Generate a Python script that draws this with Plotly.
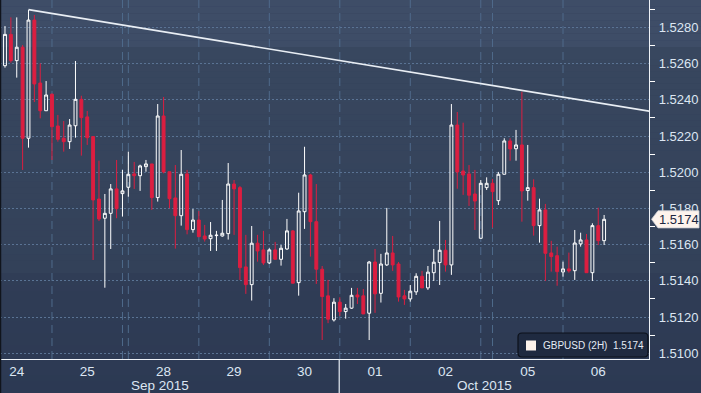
import plotly.graph_objects as go

# ---------------- data (GBPUSD, 2H bars) ----------------
opens = [
    1.52589, 1.52762, 1.52617, 1.52691, 1.52188, 1.52841, 1.52493, 1.52340, 1.52431, 1.52256,
    1.52188, 1.52169, 1.52257, 1.52403, 1.52306, 1.52197, 1.51852, 1.51746, 1.51773, 1.51908,
    1.51882, 1.51917, 1.51991, 1.51981, 1.52031, 1.52046, 1.51860, 1.52311, 1.52003, 1.51858,
    1.51760, 1.51991, 1.51683, 1.51736, 1.51648, 1.51633, 1.51650, 1.51648, 1.51661, 1.51935,
    1.51915, 1.51477, 1.51379, 1.51608, 1.51571, 1.51499, 1.51571, 1.51519, 1.51576, 1.51676,
    1.51390, 1.51782, 1.51985, 1.51727, 1.51464, 1.51317, 1.51184, 1.51282, 1.51230, 1.51249,
    1.51322, 1.51317, 1.51221, 1.51504, 1.51331, 1.51488, 1.51554, 1.51493, 1.51317, 1.51300,
    1.51339, 1.51425, 1.51361, 1.51445, 1.51501, 1.51569, 1.51488, 1.52261, 1.52007, 1.51991,
    1.51880, 1.51635, 1.51915, 1.51939, 1.51843, 1.51989, 1.52173, 1.52130, 1.52151, 1.51899,
    1.51915, 1.51705, 1.51792, 1.51554, 1.51539, 1.51449, 1.51466, 1.51456, 1.51604, 1.51626,
    1.51445, 1.51705, 1.51622]
highs = [
    1.52808, 1.52856, 1.52856, 1.52703, 1.52897, 1.52869, 1.52602, 1.52504, 1.52436, 1.52317,
    1.52283, 1.52294, 1.52615, 1.52423, 1.52339, 1.52197, 1.52064, 1.51880, 1.51935, 1.52068,
    1.52013, 1.52114, 1.52057, 1.52042, 1.52068, 1.52046, 1.52377, 1.52416, 1.52003, 1.52040,
    1.52123, 1.52013, 1.51797, 1.51786, 1.51709, 1.51725, 1.51676, 1.51847, 1.52051, 1.51957,
    1.51924, 1.51654, 1.51703, 1.51654, 1.51676, 1.51580, 1.51615, 1.51598, 1.51742, 1.51681,
    1.51887, 1.52141, 1.51991, 1.51935, 1.51482, 1.51405, 1.51304, 1.51309, 1.51272, 1.51361,
    1.51361, 1.51355, 1.51510, 1.51576, 1.51549, 1.51803, 1.51648, 1.51504, 1.51350, 1.51377,
    1.51442, 1.51455, 1.51482, 1.51576, 1.51731, 1.51626, 1.52377, 1.52333, 1.52274, 1.52040,
    1.52013, 1.51957, 1.51972, 1.51963, 1.52002, 1.52188, 1.52188, 1.52234, 1.52445, 1.52151,
    1.51961, 1.51854, 1.51825, 1.51621, 1.51589, 1.51506, 1.51556, 1.51681, 1.51666, 1.51659,
    1.51718, 1.51804, 1.51764]
lows = [
    1.52578, 1.52606, 1.52523, 1.52013, 1.52136, 1.52388, 1.52298, 1.52339, 1.52068, 1.52169,
    1.52114, 1.52129, 1.52191, 1.52092, 1.52151, 1.51515, 1.51731, 1.51362, 1.51576, 1.51746,
    1.51755, 1.51865, 1.51908, 1.51897, 1.52003, 1.51792, 1.51838, 1.51994, 1.51801, 1.51578,
    1.51705, 1.51657, 1.51666, 1.51644, 1.51617, 1.51565, 1.51565, 1.51644, 1.51628, 1.51654,
    1.51405, 1.51328, 1.51291, 1.51506, 1.51488, 1.51493, 1.51519, 1.51484, 1.51571, 1.51387,
    1.51318, 1.51687, 1.51534, 1.51383, 1.51073, 1.51166, 1.51175, 1.51206, 1.51191, 1.51245,
    1.51272, 1.51217, 1.51073, 1.51223, 1.51280, 1.51482, 1.51455, 1.51285, 1.51267, 1.51285,
    1.51322, 1.51361, 1.51350, 1.51399, 1.51377, 1.51451, 1.51433, 1.51909, 1.51875, 1.51814,
    1.51681, 1.51635, 1.51902, 1.51694, 1.51819, 1.51989, 1.52064, 1.52064, 1.51727, 1.51843,
    1.51650, 1.51611, 1.51399, 1.51451, 1.51373, 1.51423, 1.51445, 1.51405, 1.51589, 1.51445,
    1.51399, 1.51598, 1.51598]
closes = [
    1.52762, 1.52617, 1.52691, 1.52188, 1.52841, 1.52488, 1.52340, 1.52427, 1.52252, 1.52182,
    1.52169, 1.52261, 1.52403, 1.52302, 1.52191, 1.51847, 1.51742, 1.51773, 1.51908, 1.51799,
    1.51897, 1.51989, 1.51981, 1.52035, 1.52046, 1.51860, 1.52311, 1.52002, 1.51854, 1.51760,
    1.51989, 1.51683, 1.51736, 1.51644, 1.51631, 1.51652, 1.51652, 1.51663, 1.51935, 1.51908,
    1.51473, 1.51379, 1.51608, 1.51565, 1.51499, 1.51571, 1.51519, 1.51580, 1.51676, 1.51387,
    1.51786, 1.51985, 1.51727, 1.51464, 1.51313, 1.51188, 1.51282, 1.51230, 1.51249, 1.51320,
    1.51311, 1.51217, 1.51504, 1.51328, 1.51493, 1.51554, 1.51488, 1.51311, 1.51300, 1.51343,
    1.51425, 1.51361, 1.51448, 1.51503, 1.51569, 1.51488, 1.52261, 1.52002, 1.51985, 1.51873,
    1.51841, 1.51939, 1.51939, 1.51893, 1.51989, 1.52173, 1.52129, 1.52151, 1.51897, 1.51915,
    1.51705, 1.51792, 1.51552, 1.51534, 1.51451, 1.51466, 1.51455, 1.51609, 1.51626, 1.51445,
    1.51705, 1.51622, 1.51740]
bar_index = list(range(len(opens)))

day_tick_index = [2, 14, 27, 39, 51, 63, 75, 89, 101]
day_tick_text = ["24", "25", "28", "29", "30", "01", "02", "05", "06"]
day_grid_index = [8, 20, 21, 33, 45, 57, 69, 81, 83, 95]
month_break_index = 56.9
month_labels = ["Sep 2015", "Oct 2015"]
month_label_index = [26.4, 81.7]

price_ticks = [1.510, 1.512, 1.514, 1.516, 1.518, 1.520, 1.522, 1.524, 1.526, 1.528]
price_minor = [1.509, 1.511, 1.513, 1.515, 1.517, 1.519, 1.521, 1.523, 1.525, 1.527, 1.529]

trend_x = [4, 110.5]
trend_y = [1.52899, 1.52333]

last_price = 1.5174
legend_text = "GBPUSD (2H)  1.5174"

# ---------------- geometry helpers (styling only) ----------------
W, H = 701, 393
PL, PR, PT, PB = 0, 649, 0, 359          # plot area in pixels
XR = [-0.85, 109.64]
YR = [1.50968, 1.52952]


def px(xp):
    return (xp - PL) / (PR - PL)


def py(yp):
    return (PB - yp) / (PB - PT)


def hexmix(c1, c2, t):
    a = [int(c1[i:i + 2], 16) for i in (1, 3, 5)]
    b = [int(c2[i:i + 2], 16) for i in (1, 3, 5)]
    return "#" + "".join("%02x" % round(a[k] + (b[k] - a[k]) * t) for k in range(3))


shapes = []
# background bands
bands = [(0, 47, "#3e4d67", "#3e4d67"), (47, 273, "#38475f", "#334159"), (273, 393, "#303d56", "#2c3953")]
for y0, y1, c0, c1 in bands:
    n = max(1, int((y1 - y0) / 6))
    for k in range(n):
        a = y0 + (y1 - y0) * k / n
        b = y0 + (y1 - y0) * (k + 1) / n
        shapes.append(dict(type="rect", xref="paper", yref="paper", x0=px(0), x1=px(W), y0=py(b), y1=py(a),
                           fillcolor=hexmix(c0, c1, (k + 0.5) / n), line=dict(width=0), layer="below"))

# vertical dashed day grid lines
for gi in day_grid_index:
    shapes.append(dict(type="line", xref="x", yref="paper", x0=gi, x1=gi, y0=0, y1=1,
                       line=dict(color="#4f6a8b", width=1, dash="8px,5px"), layer="below"))

# month separator below axis
shapes.append(dict(type="line", xref="x", yref="paper", x0=month_break_index, x1=month_break_index,
                   y0=py(H), y1=0, line=dict(color="#e8eef5", width=1.2)))

# left edge dark border
shapes.append(dict(type="line", xref="paper", yref="paper", x0=px(0.5), x1=px(0.5), y0=py(H), y1=1,
                   line=dict(color="#10141c", width=1.5)))

# last-price tag with pointed left edge
ty = last_price
dy = 8.6 / 18100
shapes.append(dict(type="path", xref="paper", yref="y",
                   path=f"M {px(651.5)} {ty} L {px(658)} {ty + dy} L {px(699)} {ty + dy} "
                        f"L {px(699)} {ty - dy} L {px(658)} {ty - dy} Z",
                   fillcolor="#fdf3ec", line=dict(color="#c9ccd2", width=0.8)))

# legend box (rounded)
lx0, lx1, ly0, ly1, r = 518, 648, 333, 357, 4
path = (f"M {px(lx0 + r)} {py(ly0)} L {px(lx1 - r)} {py(ly0)} Q {px(lx1)} {py(ly0)} {px(lx1)} {py(ly0 + r)} "
        f"L {px(lx1)} {py(ly1 - r)} Q {px(lx1)} {py(ly1)} {px(lx1 - r)} {py(ly1)} "
        f"L {px(lx0 + r)} {py(ly1)} Q {px(lx0)} {py(ly1)} {px(lx0)} {py(ly1 - r)} "
        f"L {px(lx0)} {py(ly0 + r)} Q {px(lx0)} {py(ly0)} {px(lx0 + r)} {py(ly0)} Z")
shapes.append(dict(type="path", xref="paper", yref="paper", path=path,
                   fillcolor="#1f2a40", line=dict(color="#0c111b", width=1.2)))
shapes.append(dict(type="rect", xref="paper", yref="paper", x0=px(526), x1=px(536), y0=py(350.5), y1=py(340.5),
                   fillcolor="#fdf3ec", line=dict(width=0)))

# ---------------- traces ----------------
fig = go.Figure()
fig.add_trace(go.Candlestick(
    x=bar_index, open=opens, high=highs, low=lows, close=closes,
    increasing=dict(line=dict(color="#ffffff", width=1), fillcolor="rgba(0,0,0,0)"),
    decreasing=dict(line=dict(color="#dc1e40", width=1), fillcolor="#dc1e40"),
    whiskerwidth=0, showlegend=False, hoverinfo="skip"))

fig.add_trace(go.Scatter(x=trend_x, y=trend_y, mode="lines",
                         line=dict(color="#e9eef4", width=1.6), showlegend=False, hoverinfo="skip"))

# axis pointer triangles at labelled prices
tri_x = XR[0] + (XR[1] - XR[0]) * (652.8 - PL) / (PR - PL)
fig.add_trace(go.Scatter(x=[tri_x] * len(price_ticks), y=price_ticks, mode="markers",
                         marker=dict(symbol="triangle-right", size=7, color="#ffffff", line=dict(width=0)),
                         cliponaxis=False, showlegend=False, hoverinfo="skip"))

annotations = [
    dict(text=f"{last_price:.4f}", xref="paper", yref="y", x=px(678.5), y=last_price, showarrow=False,
         xanchor="center", yanchor="middle", font=dict(family="Liberation Sans, Arial", size=13, color="#1b2640")),
    dict(text=legend_text.replace("  ", "&nbsp;&nbsp;"), xref="paper", yref="paper", x=px(541), y=py(345.5),
         showarrow=False, xanchor="left", yanchor="middle",
         font=dict(family="Liberation Sans, Arial", size=10, color="#e4ebf4")),
]
for lbl, li in zip(month_labels, month_label_index):
    annotations.append(dict(text=lbl, xref="x", yref="paper", x=li, y=py(385), showarrow=False,
                            xanchor="center", yanchor="middle",
                            font=dict(family="Liberation Sans, Arial", size=13.5, color="#dce6f2")))

fig.update_layout(
    width=W, height=H,
    margin=dict(l=PL, r=W - PR, t=PT, b=H - PB, autoexpand=False),
    paper_bgcolor="#34425c", plot_bgcolor="rgba(0,0,0,0)",
    shapes=shapes, annotations=annotations,
    xaxis=dict(range=XR, rangeslider=dict(visible=False), showgrid=False, zeroline=False,
               tickmode="array", tickvals=day_tick_index, ticktext=day_tick_text, ticks="",
               tickfont=dict(family="Liberation Sans, Arial", size=13.5, color="#dce6f2"),
               showline=True, linecolor="#eef2f7", linewidth=1.2, fixedrange=True, automargin=False),
    yaxis=dict(range=YR, side="right", zeroline=False,
               tickmode="array", tickvals=price_ticks, ticktext=[f"{v:.4f}" for v in price_ticks],
               ticks="", ticklabelstandoff=6,
               tickfont=dict(family="Liberation Sans, Arial", size=13, color="#dce6f2"),
               showgrid=True, gridcolor="#5a7394", gridwidth=1, griddash="2px,2px",
               minor=dict(tickvals=price_minor, ticks="outside", ticklen=5, tickcolor="#ffffff",
                          tickwidth=1, showgrid=False),
               showline=True, linecolor="#eef2f7", linewidth=1.2, fixedrange=True, automargin=False),
    font=dict(family="Liberation Sans, Arial"),
)

fig.write_html("out.html", config={"displayModeBar": False},
               post_script="document.body.style.margin='0';document.body.style.padding='0';"
                           "document.body.style.overflow='hidden';")
